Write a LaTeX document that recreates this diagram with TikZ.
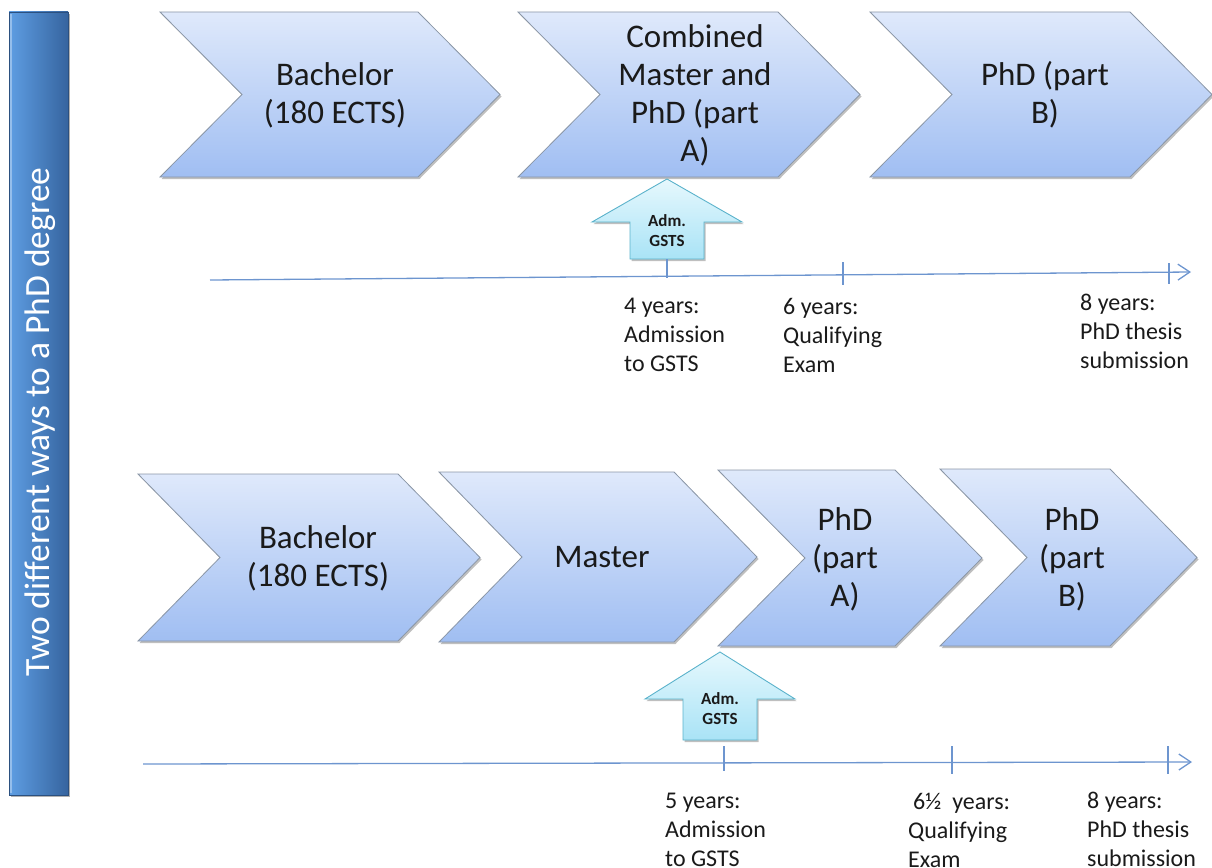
\documentclass[tikz,border=0pt]{standalone}
\usepackage{fontspec}
\setmainfont{Carlito}
\usetikzlibrary{arrows.meta,shadows}
\definecolor{chevtop}{HTML}{DFE9FB}
\definecolor{chevbot}{HTML}{A0BEF2}
\definecolor{chevborder}{HTML}{8A96A6}
\definecolor{admtop}{HTML}{E6F8FD}
\definecolor{admbot}{HTML}{A9E3F6}
\definecolor{admborder}{HTML}{5AB2CB}
\definecolor{barleft}{HTML}{5E9EE3}
\definecolor{barright}{HTML}{36649F}
\definecolor{axiscol}{HTML}{6D95CF}
\definecolor{txt}{HTML}{1A1A1A}
\tikzset{
  chev/.style={draw=chevborder, line width=0.8pt, top color=chevtop, bottom color=chevbot,
    drop shadow={shadow xshift=1.5pt, shadow yshift=-2pt, opacity=0.25, fill=black}},
  chevtext/.style={align=center, font=\fontsize{33}{38}\selectfont, text=txt, inner sep=0pt},
  admshape/.style={draw=admborder, line width=0.9pt, top color=admtop, bottom color=admbot,
    drop shadow={shadow xshift=1.5pt, shadow yshift=-2pt, opacity=0.25, fill=black}},
  admtext/.style={align=center, font=\fontsize{17}{20}\selectfont\bfseries, text=txt, inner sep=0pt},
  axisline/.style={draw=axiscol, line width=1.3pt},
  axisarrow/.style={axisline, -{Straight Barb[length=12pt,width=16pt,line width=1.3pt]}},
  ticks/.style={draw=axiscol, line width=1.1pt},
  timetext/.style={align=left, anchor=west, font=\fontsize{24}{29}\selectfont, text=txt, inner sep=0pt},
  bartext/.style={rotate=90, font=\fontsize{35.5}{40}\selectfont, text=white, inner sep=0pt}
}
% left, top, right-top corner, bottom, depth
\newcommand\mychev[5]{%
  \path[chev] (#1,#2) -- (#3,#2) -- ({#3+#5},{(#2+#4)/2}) -- (#3,#4) -- (#1,#4) -- ({#1+#5},{(#2+#4)/2}) -- cycle;}
% centre x, tip y, wing y, bottom y
\newcommand\admarrow[4]{%
  \path[admshape] (#1,#2) -- ({#1+75},#3) -- ({#1+37},#3) -- ({#1+37},#4) -- ({#1-37},#4) -- ({#1-37},#3) -- ({#1-75},#3) -- cycle;}
\begin{document}
\begin{tikzpicture}[x=1pt,y=-1pt]
\useasboundingbox (0,0) rectangle (1212,867);

% left bar
\path[left color=barleft, right color=barright, draw=barright!80!black, line width=0.6pt,
  drop shadow={shadow xshift=1.5pt, shadow yshift=-2pt, opacity=0.3, fill=black}] (9,12) rectangle (68,795);
\draw[white, opacity=0.35, line width=1.5pt] (11,14) -- (11,793);
\node[bartext] (bar) at (40,422) {Two different ways to a PhD degree};

% row 1 chevrons
\mychev{160}{12}{418}{177}{82}
\mychev{518}{12}{778}{177}{82}
\mychev{870}{12}{1130}{177}{82}
\node[chevtext] (b1) at (335,95) {Bachelor\\(180 ECTS)};
\node[chevtext] (c1) at (695,95) {Combined\\Master and\\PhD (part\\A)};
\node[chevtext] (p1) at (1045,95) {PhD (part\\B)};

% row 2 chevrons
\mychev{138}{474}{398}{641}{82}
\mychev{439}{472}{674}{642}{83}
\mychev{718}{470}{895}{646}{87}
\mychev{940}{469}{1110}{646}{87}
\node[chevtext] (b2) at (318,558) {Bachelor\\(180 ECTS)};
\node[chevtext] (m2) at (602,557) {Master};
\node[chevtext] (pa2) at (845,559) {PhD\\(part\\A)};
\node[chevtext] (pb2) at (1072,559) {PhD\\(part\\B)};

% admission arrows
\admarrow{667}{179}{222}{259}
\node[admtext] (adm1) at (667,231) {Adm.\\GSTS};
\admarrow{720}{652}{699}{740}
\node[admtext] (adm2) at (720,709) {Adm.\\GSTS};

% top timeline
\coordinate (t0) at (210,280);
\coordinate (t1) at (1191,272);
\draw[axisarrow] (t0) -- (t1);
\draw[ticks] (667,259) -- (667,278);
\draw[ticks] (843,262) -- (843,285);
\draw[ticks] (1169,263) -- (1169,284);
\node[timetext] (l1) at (624,335) {4 years:\\Admission\\to GSTS};
\node[timetext] (l2) at (783,335) {6 years:\\Qualifying\\Exam};
\node[timetext] (l3) at (1080,331) {8 years:\\PhD thesis\\submission};

% bottom timeline
\coordinate (u0) at (143,764);
\coordinate (u1) at (1192,762);
\draw[axisarrow] (u0) -- (u1);
\draw[ticks] (724,746) -- (724,771);
\draw[ticks] (952,746) -- (952,774);
\draw[ticks] (1168,746) -- (1168,774);
\node[timetext] (m1) at (665,830) {5 years:\\Admission\\to GSTS};
\node[timetext] (m2l) at (908,830) {\hspace*{5pt}6½\ \ years:\\Qualifying\\Exam};
\node[timetext] (m3) at (1087,829) {8 years:\\PhD thesis\\submission};
\end{tikzpicture}
\end{document}
